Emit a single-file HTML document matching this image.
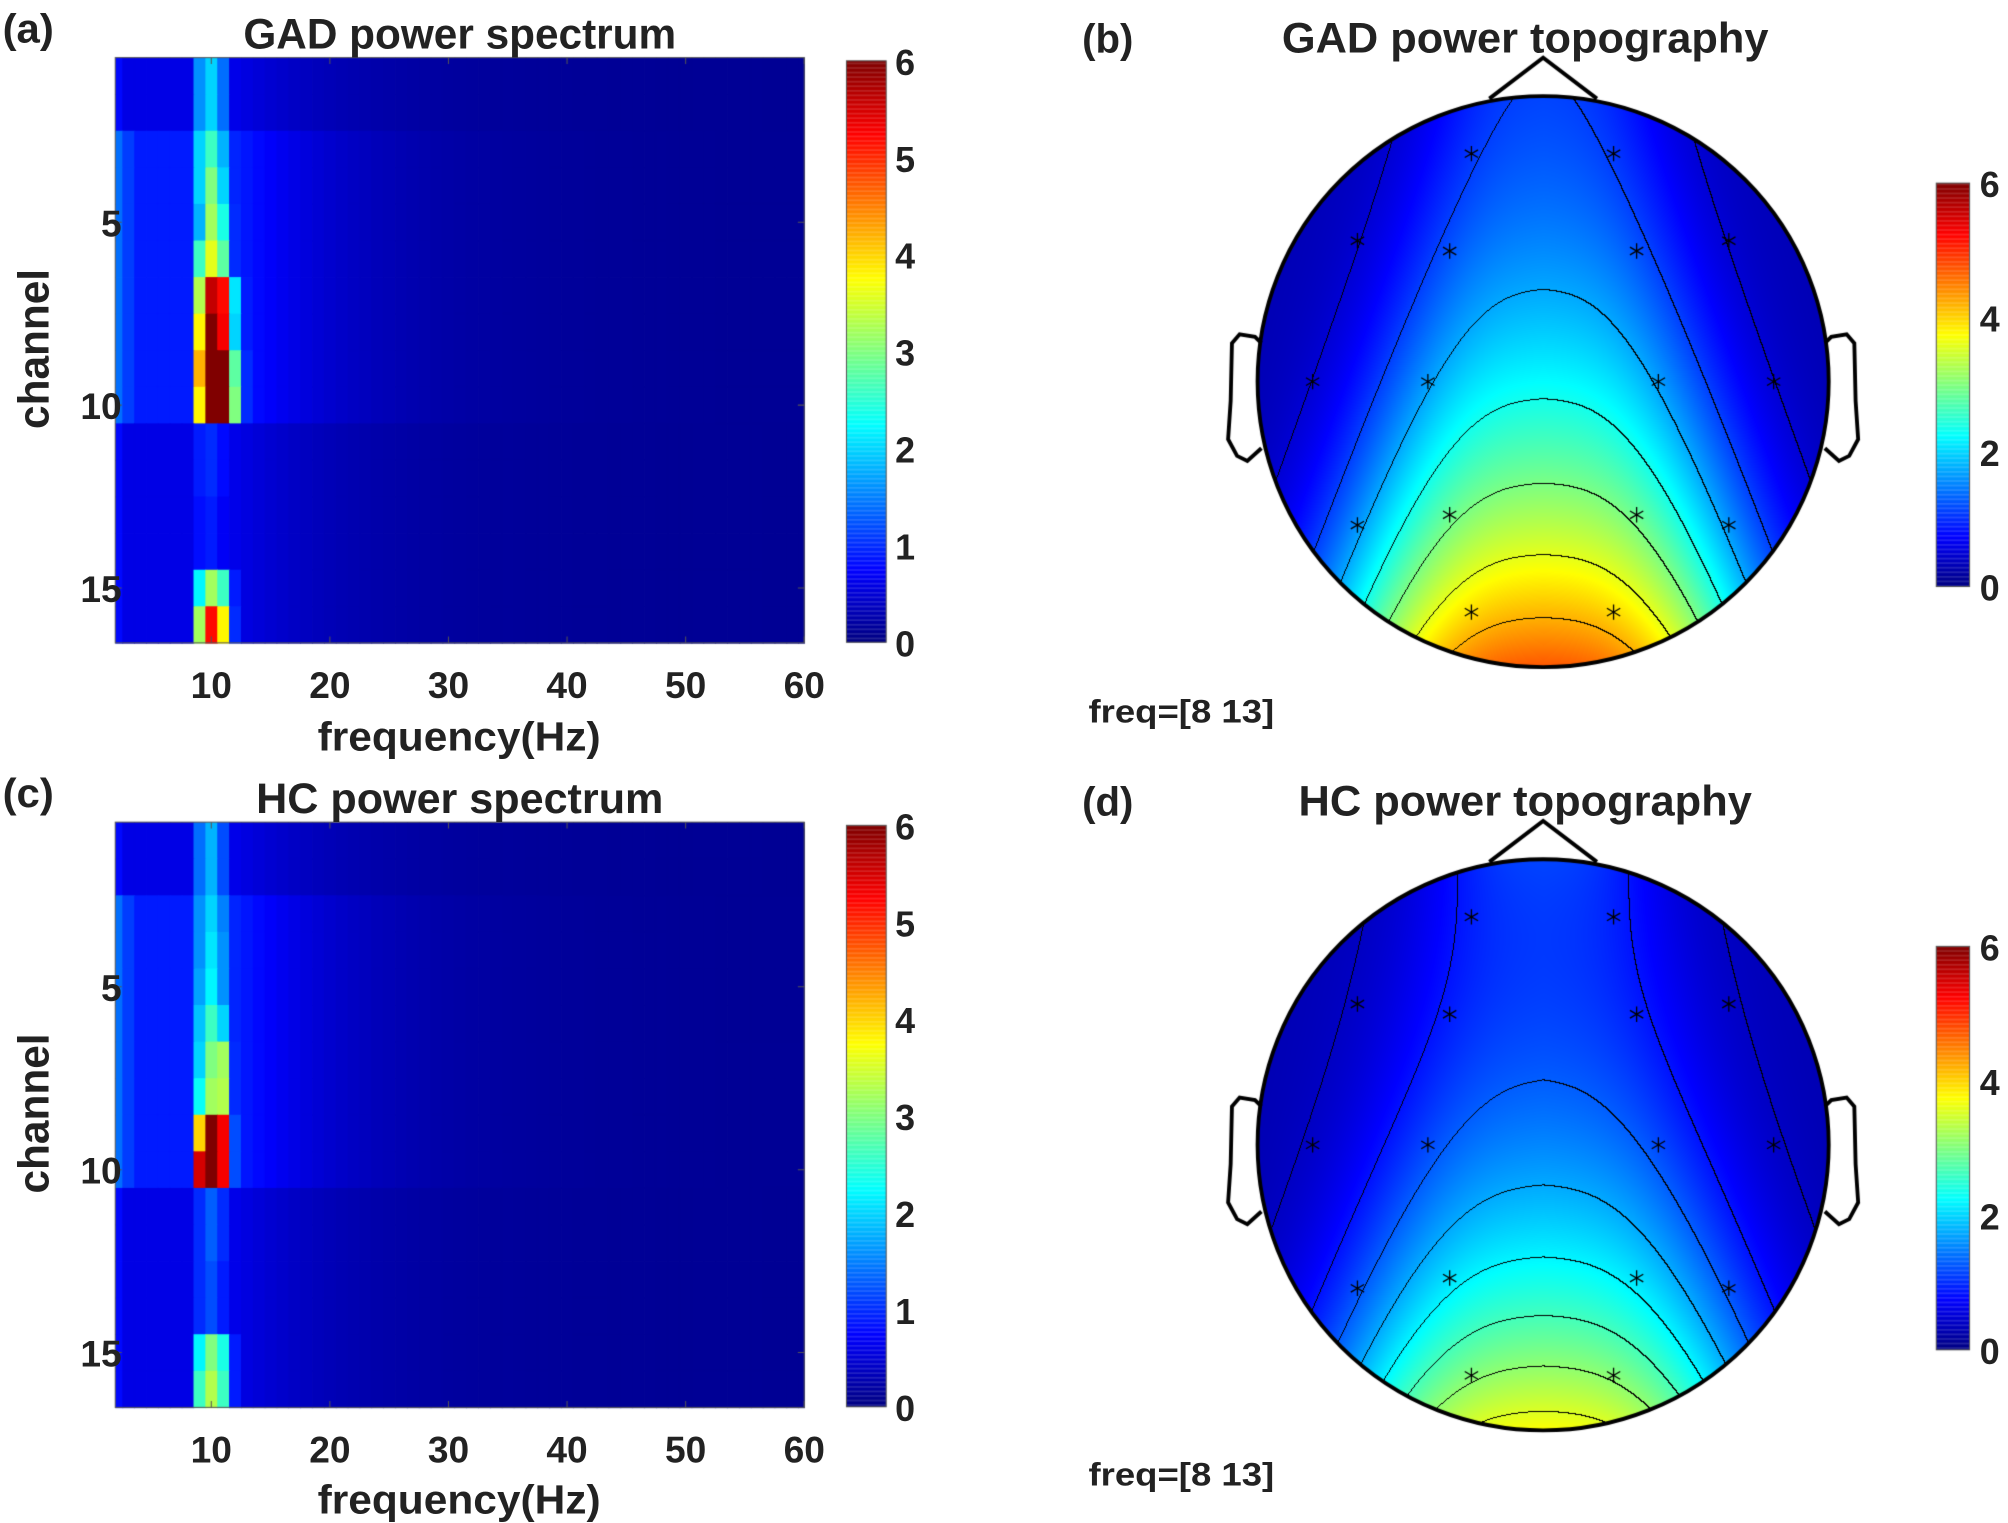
<!DOCTYPE html>
<html><head><meta charset="utf-8"><style>
html,body{margin:0;padding:0;background:#fff;}
#wrap{position:relative;width:2008px;height:1523px;overflow:hidden;}
canvas,svg{position:absolute;left:0;top:0;}
text{font-family:"Liberation Sans",Arial,sans-serif;font-weight:bold;fill:#222;}
</style></head><body><div id="wrap">
<canvas id="c" width="2008" height="1523"></canvas>
<svg width="2008" height="1523" viewBox="0 0 1568 1189.3">
<g id="lab"></g>
<text x="2" y="33" font-size="32" textLength="40" lengthAdjust="spacingAndGlyphs">(a)</text>
<text x="190" y="38" font-size="33" textLength="338" lengthAdjust="spacingAndGlyphs">GAD power spectrum</text>
<text x="2" y="630" font-size="32" textLength="40" lengthAdjust="spacingAndGlyphs">(c)</text>
<text x="200" y="635" font-size="33" textLength="318" lengthAdjust="spacingAndGlyphs">HC power spectrum</text>
<text x="845" y="41" font-size="32" textLength="40" lengthAdjust="spacingAndGlyphs">(b)</text>
<text x="1001" y="41" font-size="33" textLength="380" lengthAdjust="spacingAndGlyphs">GAD power topography</text>
<text x="845" y="637" font-size="32" textLength="40" lengthAdjust="spacingAndGlyphs">(d)</text>
<text x="1014" y="637" font-size="33" textLength="354" lengthAdjust="spacingAndGlyphs">HC power topography</text>
<text x="850" y="564" font-size="25" textLength="145" lengthAdjust="spacingAndGlyphs">freq=[8 13]</text>
<text x="850" y="1160" font-size="25" textLength="145" lengthAdjust="spacingAndGlyphs">freq=[8 13]</text>
<text x="248" y="586" font-size="32" textLength="221" lengthAdjust="spacingAndGlyphs">frequency(Hz)</text>
<text x="248" y="1182" font-size="32" textLength="221" lengthAdjust="spacingAndGlyphs">frequency(Hz)</text>
<text transform="translate(38,335) rotate(-90)" font-size="34" textLength="125" lengthAdjust="spacingAndGlyphs">channel</text>
<text transform="translate(38,932) rotate(-90)" font-size="34" textLength="125" lengthAdjust="spacingAndGlyphs">channel</text>
</svg>
</div>
<script>
const S=2008/1568;
function jet(v){v=Math.max(0,Math.min(1,v));
 function f(x){return Math.max(0,Math.min(1,x));}
 const r=f(1.5-Math.abs(4*v-3)),g=f(1.5-Math.abs(4*v-2)),b=f(1.5-Math.abs(4*v-1));
 return [Math.round(r*255),Math.round(g*255),Math.round(b*255)];}
function jc(v){const c=jet(v/6);return `rgb(${c[0]},${c[1]},${c[2]})`;}
const cv=document.getElementById('c'),ctx=cv.getContext('2d');
ctx.fillStyle='#fff';ctx.fillRect(0,0,2008,1523);
ctx.save();ctx.scale(S,S);
const X0=90,X1=628;
function xf(f){return 165+(f-10)*9.26;}
function spec(oy,peaks){
 const rh=(502-45)/16;
 for(let r=0;r<16;r++){
  for(let f=2;f<=60;f++){
   let base;
   const mid=(r>=2&&r<=9);
   if(f<=8) base=mid?(f<=2?1.4:(f<=3?1.1:0.9)):(f<=2?0.8:0.6);
   else base=Math.max(0.12,(mid?0.75:0.45)*Math.exp(-(f-13)/9)+0.12);
   let v=base;
   const p=peaks[r];
   if(f>=9&&f<=13&&p[f-9]!=null) v=Math.max(base,p[f-9]);
   let a=Math.max(X0,xf(f-0.5)),b=Math.min(X1,xf(f+0.5));
   ctx.fillStyle=jc(v);ctx.fillRect(a,oy+45+r*rh,b-a+0.6,rh+0.6);
  }
 }
 ctx.strokeStyle='#555';ctx.lineWidth=0.8;ctx.strokeRect(X0,oy+45,X1-X0,457);
 ctx.beginPath();
 for(let f=10;f<=60;f+=10){ctx.moveTo(xf(f),oy+502);ctx.lineTo(xf(f),oy+497);ctx.moveTo(xf(f),oy+45);ctx.lineTo(xf(f),oy+50);}
 for(const c of [5,10,15]){const y=oy+45+(c-0.5)*rh;ctx.moveTo(X0,y);ctx.lineTo(X0+5,y);ctx.moveTo(X1,y);ctx.lineTo(X1-5,y);}
 ctx.stroke();
 for(let i=0;i<454;i++){ctx.fillStyle=jc(6*(1-i/454));ctx.fillRect(661,oy+47.5+i,31,1.2);}
 ctx.strokeRect(661,oy+47.5,31,454);
}
const G=[[1.6,2.0,1.4,0.6],[1.6,2.0,1.4,0.6],[2.0,2.6,1.8,0.8],[2.0,3.0,2.0,0.8],[1.8,3.2,2.4,1.0],[2.6,3.6,2.8,1.0],
[3.3,5.6,5.2,2.1,0.9],[3.8,6,5.3,2.0,0.9],[4.2,6,6,2.8,1.0],[3.8,6,6,3.0,1.0],[0.9,1.0,0.8],[0.9,1.0,0.8],[0.8,0.9,0.7],[0.8,0.9,0.7],
[2.2,3.2,2.6,0.9],[3.2,5.2,3.8,1.0]];
const H=[[1.4,1.8,1.2],[1.4,1.8,1.2],[1.6,2.0,1.5,0.7],[1.6,2.1,1.6,0.7],[1.7,2.2,1.6,0.8],[1.9,2.6,2.0,0.8],[2.0,3.0,3.2,1.0],[2.3,3.2,3.3,1.0],
[4.0,6,5.3,1.2],[5.5,6,5.3,1.2],[1.0,1.3,1.0],[1.0,1.3,1.0],[1.0,1.2,0.9],[1.0,1.2,0.9],[2.2,3.0,2.4,0.9],[2.6,3.3,2.6,0.9]];
spec(0,G);spec(597,H);
function tcb(y0){for(let i=0;i<315;i++){ctx.fillStyle=jc(6*(1-i/315));ctx.fillRect(1512,y0+i,26,1.2);}
 ctx.strokeStyle='#555';ctx.strokeRect(1512,y0,26,315);}
tcb(143);tcb(739);
ctx.restore();
function topo(cy,pf,sg,l0,dl){
 const cx=1205*S,CY=cy*S,R=222.5*S;
 const x0=Math.floor(cx-R),y0=Math.floor(CY-R),n=Math.ceil(2*R)+1;
 const img=ctx.getImageData(x0,y0,n,n);const d=img.data;
 const val=new Float32Array(n*n);
 for(let j=0;j<n;j++)for(let i=0;i<n;i++){
  const u=(x0+i-cx)/R,w=(y0+j-CY)/R;
  const p=pf(w),s=sg(w);
  val[j*n+i]=0.3+(p-0.3)*Math.exp(-Math.pow(Math.abs(u)/s,2.8))+0.15*(1-Math.abs(u));
 }
 const L=v=>Math.floor((v-l0)/dl);
 for(let j=0;j<n;j++)for(let i=0;i<n;i++){
  const u=(x0+i-cx)/R,w=(y0+j-CY)/R;
  if(u*u+w*w>1)continue;
  const v=val[j*n+i];let c=jet(v/6);
  if(i<n-1&&j<n-1){const l=L(v);if(l!==L(val[j*n+i+1])||l!==L(val[(j+1)*n+i]))c=[0,0,0];}
  const k=(j*n+i)*4;d[k]=c[0];d[k+1]=c[1];d[k+2]=c[2];d[k+3]=255;
 }
 ctx.putImageData(img,x0,y0);
 ctx.save();ctx.scale(S,S);
 ctx.strokeStyle='#000';ctx.lineWidth=3;
 ctx.beginPath();ctx.arc(1205,cy,223,0,Math.PI*2);ctx.stroke();
 ctx.beginPath();ctx.moveTo(1163,cy-221);ctx.lineTo(1205,cy-253);ctx.lineTo(1247,cy-221);ctx.stroke();
 for(const sgn of [-1,1]){
  const ex=x=>1205+sgn*(x-1205);
  ctx.beginPath();
  ctx.moveTo(ex(985),cy-30);ctx.lineTo(ex(980),cy-35);ctx.lineTo(ex(968),cy-37);ctx.lineTo(ex(962),cy-30);
  ctx.lineTo(ex(961),cy+15);ctx.lineTo(ex(959),cy+45);ctx.lineTo(ex(966),cy+58);ctx.lineTo(ex(974),cy+62);ctx.lineTo(ex(985),cy+52);
  ctx.stroke();
 }
 const E=[[1149,120],[1260,120],[1060,188],[1132,196],[1278,196],[1350,188],[1025,298],[1115,298],[1295,298],[1385,298],[1060,410],[1132,402],[1278,402],[1350,410],[1149,478],[1260,478]];
 ctx.lineWidth=1;
 for(const [x,y] of E){const yy=y-298+cy;ctx.beginPath();
  for(let a=0;a<3;a++){const t=a*Math.PI/3+Math.PI/2;ctx.moveTo(x-6*Math.cos(t),yy-6*Math.sin(t));ctx.lineTo(x+6*Math.cos(t),yy+6*Math.sin(t));}
  ctx.stroke();}
 ctx.restore();
}
topo(298,w=>2.1+1.8*w+0.7*w*w,w=>0.6+0.2*w,0.5,0.62);
topo(894,w=>1.4+1.3*w+0.9*w*w,w=>0.6+0.2*w,0.85,0.45);
const lab=document.getElementById('lab');let h='';
for(const oy of [0,597]){
 for(let f=10;f<=60;f+=10)h+=`<text x="${165+(f-10)*9.26}" y="${oy+545}" font-size="29" text-anchor="middle">${f}</text>`;
 const rh=457/16;
 for(const c of [5,10,15])h+=`<text x="95" y="${oy+45+(c-0.5)*rh+11}" font-size="29" text-anchor="end">${c}</text>`;
 for(let k=0;k<=6;k++)h+=`<text x="699" y="${oy+501.5-k*454/6+11}" font-size="28">${k}</text>`;
}
for(const y0 of [143,739])for(let k=0;k<=3;k++)h+=`<text x="1546" y="${y0+315-k*105+11}" font-size="28">${2*k}</text>`;
lab.innerHTML=h;
</script>
</body></html>
